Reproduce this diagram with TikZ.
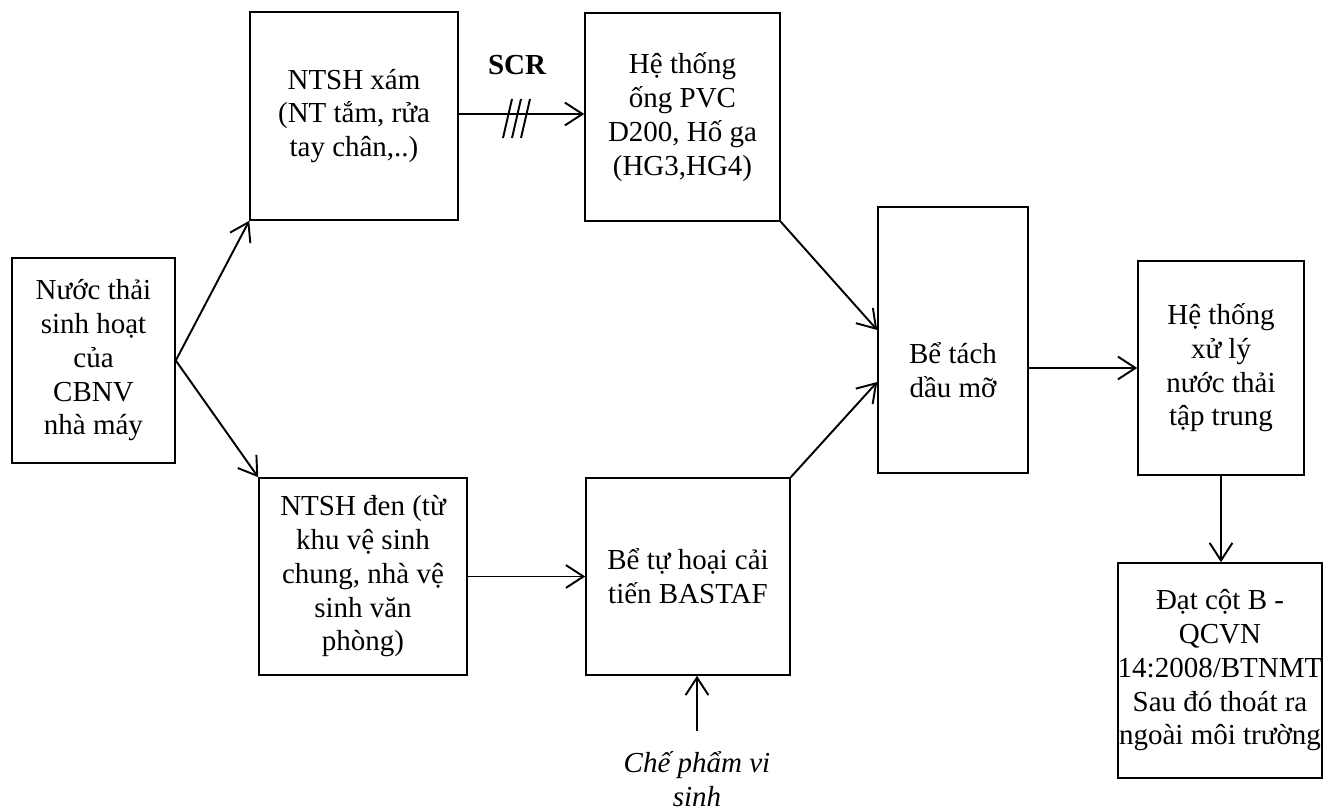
\documentclass[tikz,border=0pt]{standalone}
\usepackage{fontspec}
\setmainfont{Liberation Serif}
\usetikzlibrary{arrows.meta, positioning}

\begin{document}
\begin{tikzpicture}[x=0.02cm, y=-0.02cm,
  every node/.style={font=\fontsize{16.5}{19.2}\selectfont},
  box/.style={draw, line width=0.9pt, align=center, inner sep=0pt},
  flow/.style={-{Straight Barb[length=10pt,width=13pt]}, line width=1.1pt}]
\useasboundingbox (0,0) rectangle (1333,810);

% Boxes
\node[box, minimum width=3.26cm, minimum height=4.10cm] (nuoc) at (93.5,360.5) {Nước thải\\sinh hoạt\\của\\CBNV\\nhà máy};
\node[box, minimum width=4.16cm, minimum height=4.16cm] (xam) at (354,116) {NTSH xám\\(NT tắm, rửa\\tay chân,..)};
\node[box, minimum width=3.90cm, minimum height=4.16cm] (ong) at (682.5,117) {Hệ thống\\ống PVC\\D200, Hố ga\\(HG3,HG4)};
\node[box, minimum width=4.16cm, minimum height=3.94cm] (den) at (363,576.5) {NTSH đen (từ\\khu vệ sinh\\chung, nhà vệ\\sinh văn\\phòng)};
\node[box, minimum width=4.08cm, minimum height=3.94cm] (tuhoai) at (688,576.5) {Bể tự hoại cải\\tiến BASTAF};
\node[box, minimum width=3.00cm, minimum height=5.32cm] (tach) at (953,340) {};
\node[align=center] (tachtext) at (953,370) {Bể tách\\dầu mỡ};
\node[box, minimum width=3.32cm, minimum height=4.28cm] (xuly) at (1221,368) {Hệ thống\\xử lý\\nước thải\\tập trung};
\node[box, minimum width=4.08cm, minimum height=4.30cm] (dat) at (1220,670.5) {Đạt cột B -\\QCVN\\14:2008/BTNMT\\Sau đó thoát ra\\ngoài môi trường};

% Labels
\node (scr) at (517,65) {\bfseries SCR};
\node[align=center, inner sep=0pt] (chepham) at (697,779) {\itshape Chế phẩm vi\\\itshape sinh};

% Arrows
\draw[flow] (nuoc.east) -- (xam.south west);
\draw[flow] (nuoc.east) -- (den.north west);
\draw[flow] ([shift={(0,-2)}]xam.east) -- ([shift={(0,-2)}]xam.east -| ong.west);
\draw[flow] (ong.south east) -- ([shift={(0,-10)}]tach.west);
\draw[flow] (den.east) -- (den.east -| tuhoai.west);
\draw[flow] (tuhoai.north east) -- ([shift={(0,42)}]tach.west);
\draw[flow] (tach.east |- xuly.west) -- (xuly.west);
\draw[flow] (xuly.south) -- (xuly.south |- dat.north);
\draw[flow] ([shift={(0,-20)}]chepham.north) -- (chepham.north |- tuhoai.south);

% Slashes on the SCR line
\coordinate (tick) at (516.5,118.5);
\foreach \dx in {-9,0,9}
  \draw[line width=1.1pt] ([shift={(\dx,0)}]tick) ++(-4.5,19.5) -- ++(9,-39);

\end{tikzpicture}
\end{document}
